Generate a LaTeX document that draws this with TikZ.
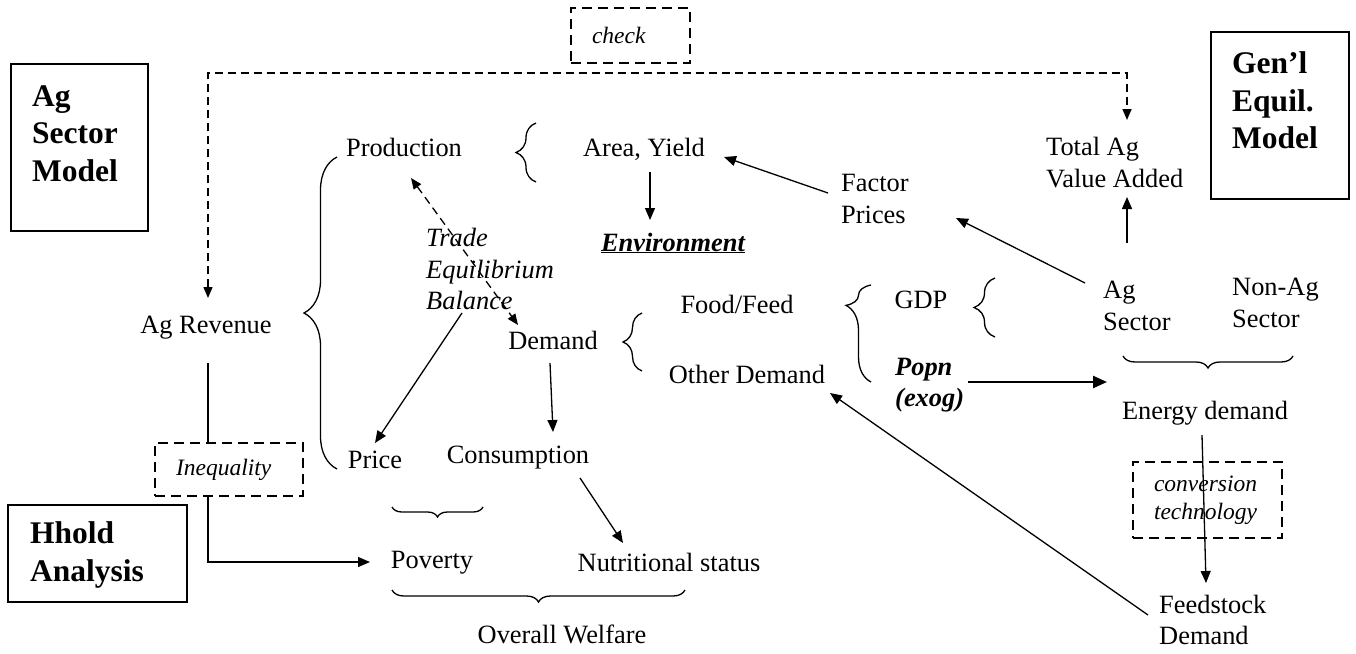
\documentclass[tikz,border=0pt]{standalone}
\usepackage{fontspec}
\setmainfont{Liberation Serif}
\usetikzlibrary{arrows.meta,decorations.pathreplacing,calc}
\begin{document}
\begin{tikzpicture}[x=1pt,y=1pt,
  lbl/.style={inner sep=0pt, font=\fontsize{26.4}{31.5}\selectfont},
  one/.style={lbl, text height=18.5pt, text depth=6.5pt},
  multi/.style={lbl, align=left, anchor=west},
  modelbox/.style={draw, line width=1.6pt, inner sep=0pt},
  modeltxt/.style={inner sep=0pt, align=left, anchor=west, font=\fontsize{31.5}{37.5}\selectfont\bfseries},
  dbox/.style={draw, line width=1.5pt, dash pattern=on 10pt off 6pt, inner xsep=21pt, inner ysep=0pt, align=left, font=\fontsize{23.5}{28}\selectfont\itshape},
  arr/.style={line width=1.3pt, -{Triangle[length=12pt,width=10pt]}},
  bigarr/.style={line width=2.4pt, -{Triangle[length=14pt,width=12pt]}},
  darr/.style={line width=1.4pt, dash pattern=on 8pt off 5pt, {Triangle[length=11pt,width=9pt]}-{Triangle[length=11pt,width=9pt]}},
  brc/.style={line width=1.3pt, decorate, decoration={brace, amplitude=#1}},
]
\fill[white] (0,0) rectangle (1356,-653);
\useasboundingbox (0,0) rectangle (1356,-653);

% model boxes
\node[modelbox, minimum width=137pt, minimum height=167pt] (agbox) at (79.5,-147.5) {};
\node[modeltxt] (agtxt) at (32,-133.5) {Ag\\Sector\\Model};
\node[modelbox, minimum width=138pt, minimum height=167pt] (gebox) at (1280,-115.5) {};
\node[modeltxt] (getxt) at (1232,-100.5) {Gen’l\\Equil.\\Model};
\node[modelbox, minimum width=179pt, minimum height=97pt] (hhbox) at (97.5,-553.5) {};
\node[modeltxt] (hhtxt) at (30,-555) {Hhold\\Analysis};

% dashed boxes
\node[dbox, text width=77pt, minimum height=55pt] (chk) at (630.5,-35.5) {check};
\node[dbox, text width=106pt, minimum height=53pt] (ineq) at (229,-469.5) {Inequality};
\node[dbox, text width=107pt, minimum height=76pt, font=\fontsize{23.5}{28}\selectfont\itshape] (conv) at (1207.5,-500) {conversion\\technology};

% labels
\node[one] (prod) at (404,-150) {Production};
\node[one] (area) at (644,-150) {Area, Yield};
\node[one, font=\fontsize{26.4}{31.5}\selectfont\bfseries\itshape] (env) at (673,-245) {\underline{Environment}};
\node[multi, font=\fontsize{26.4}{31.5}\selectfont\itshape] (trade) at (426,-269) {Trade\\Equilibrium\\Balance};
\node[one] (agrev) at (206,-327) {Ag Revenue};
\node[one] (demand) at (553,-343) {Demand};
\node[one] (food) at (737,-307) {Food/Feed};
\node[one] (other) at (747,-377) {Other Demand};
\node[one] (gdp) at (921,-302) {GDP};
\node[multi, font=\fontsize{26.4}{31.5}\selectfont\bfseries\itshape] (popn) at (895,-385) {Popn\\(exog)};
\node[multi] (agsec) at (1103,-306) {Ag\\Sector};
\node[multi] (nonag) at (1232,-303) {Non-Ag\\Sector};
\node[multi] (totag) at (1046,-162.5) {Total Ag\\Value Added};
\node[multi] (factor) at (841,-199) {Factor\\Prices};
\node[one] (energy) at (1205,-413) {Energy demand};
\node[multi] (feed) at (1159,-620) {Feedstock\\Demand};
\node[one] (price) at (375,-462) {Price};
\node[one] (cons) at (518,-457) {Consumption};
\node[one] (pov) at (432,-562) {Poverty};
\node[one] (nutr) at (669,-565) {Nutritional status};
\node[one] (welfare) at (562,-637) {Overall Welfare};

% braces
\draw[brc=20pt] (536,-182) -- (536,-123);
\draw[brc=33pt] (337,-469) -- (337,-157);
\draw[brc=19pt] (642,-371) -- (642,-313);
\draw[line width=1.3pt, decorate, decoration={brace, amplitude=25pt, aspect=0.79}] (871,-382) -- (871,-285);
\draw[brc=21pt] (995,-337) -- (995,-278);
\draw[brc=10pt] (483,-507) -- (392,-507);
\draw[brc=12pt] (685,-590) -- (392,-590);
\draw[brc=12pt] (1293,-356) -- (1123,-356);

% connectors
\draw[darr] ([shift={(2,29)}]agrev.center) |- ([yshift=-37.5pt]chk.center) -| ([shift={(81,42.5)}]totag.west);
\draw[darr, line width=1.3pt] ([shift={(7,-28)}]prod.center) -- ([shift={(-35,18)}]demand.center);
\draw[arr] ([shift={(36,-44)}]trade.west) -- ([shift={(0,19)}]price.center);
\draw[arr] ([shift={(6,-22)}]area.center) -- ([shift={(-23,25)}]env.center);
\draw[arr] ([shift={(-3,-20)}]demand.center) -- ([shift={(35,25)}]cons.center);
\draw[arr] ([shift={(62,-21)}]cons.center) -- ([shift={(-46,22)}]nutr.center);
\draw[line width=1.3pt] ([shift={(2,-36)}]agrev.center) -- ([xshift=-21pt]ineq.north);
\draw[arr] ([xshift=-21pt]ineq.south) |- ([xshift=-62pt]pov.center);
\draw[arr] ([shift={(-13,6)}]factor.west) -- ([shift={(80,-7)}]area.center);
\draw[arr] ([shift={(-18,23)}]agsec.west) -- ([shift={(115,-19)}]factor.west);
\draw[arr] ([shift={(24,63)}]agsec.west) -- ([shift={(81,-34.5)}]totag.west);
\draw[bigarr] ([shift={(73,3)}]popn.west) -- ([shift={(-98,31)}]energy.center);
\draw[arr] ([shift={(-3,-22)}]energy.center) -- ([shift={(47,37)}]feed.west);
\draw[arr] ([shift={(-11,5)}]feed.west) -- ([shift={(83,-16)}]other.center);
\end{tikzpicture}
\end{document}
